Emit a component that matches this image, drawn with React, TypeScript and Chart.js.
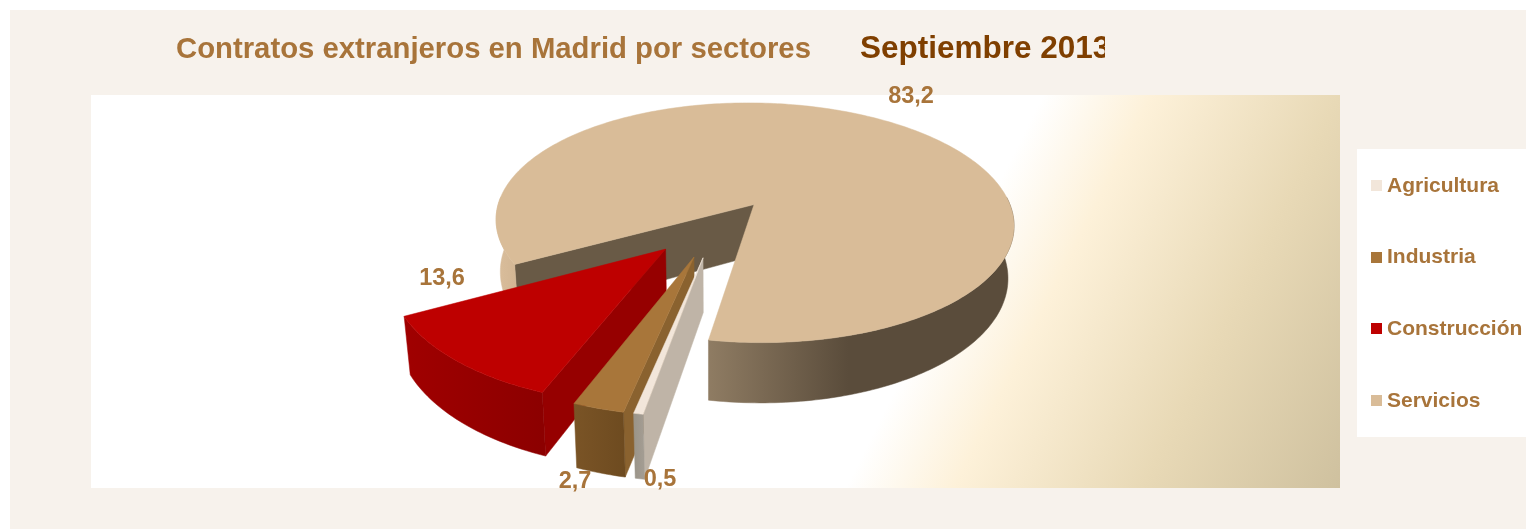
import React, { useEffect, useRef } from "react";
import { Chart, registerables } from "chart.js";

Chart.register(...registerables);

const categories = ["Agricultura", "Industria", "Construcción", "Servicios"];
const values = [0.5, 2.7, 13.6, 83.2];
const valueLabels = ["0,5", "2,7", "13,6", "83,2"];
const titleMain = "Contratos extranjeros en Madrid por sectores";
const titleDate = "Septiembre 2013";

const topColors = ["#F2E6DA", "#A8763A", "#BE0000", "#D9BC98"];
const radialColors = ["#BFB4A7", "#8A622F", "#960000", "#695A46"];
const outerStops: [number, string][][] = [
  [[0, "#9A9488"], [1, "#A39C92"]],
  [[0, "#7A5426"], [1, "#6E4B20"]],
  [[0, "#A00000"], [1, "#8C0000"]],
  [[0, "#DABE9C"], [0.04, "#D2B694"], [0.41, "#8F7C63"], [0.68, "#5A4C3B"], [1, "#5A4C3B"]],
];
const explode = [60, 60, 60, 70];
const nudgeX = [5, 2, 0, 0];
const FONT = '"Liberation Sans", Arial, sans-serif';
const TEXT = "#A8743A";
const labelPos: [number, number][] = [[660, 480], [575, 482], [442, 279], [911, 97]];

const TILT = 124.6 / 264;
const PERSP = 0.156;
const DEPTH = 52.8;
const ROTATION = 190.2;
// Excel's 3-D pie is not a true ellipse section: slice edges are remapped along the rim.
const warpTable: [number, number][] = [[0, 0], [11.52, 11.1], [60.48, 51.5], [360, 360]];

function warp(deg: number) {
  const f = ((deg - ROTATION) % 360 + 360) % 360;
  for (let k = 1; k < warpTable.length; k++) {
    const [x0, y0] = warpTable[k - 1];
    const [x1, y1] = warpTable[k];
    if (f <= x1) return ROTATION + y0 + ((f - x0) * (y1 - y0)) / (x1 - x0);
  }
  return ROTATION + f;
}

const piePlugin = {
  id: "pie3d",
  beforeDraw(chart: any) {
    const ctx = chart.ctx;
    ctx.save();
    ctx.fillStyle = "#FFFFFF";
    ctx.fillRect(0, 0, 1526, 529);
    ctx.fillStyle = "#F7F2EC";
    ctx.fillRect(10, 10, 1516, 519);
    const g = ctx.createLinearGradient(945, 290, 1339, 488);
    g.addColorStop(0, "#FFFFFF");
    g.addColorStop(0.22, "#FDF1D9");
    g.addColorStop(0.6, "#E8D9B6");
    g.addColorStop(1, "#CFC19F");
    ctx.fillStyle = g;
    ctx.fillRect(91, 95, 1249, 393);
    ctx.fillStyle = "#FFFFFF";
    ctx.fillRect(1357, 149, 169, 288);

    ctx.textBaseline = "middle";
    ctx.textAlign = "left";
    ctx.font = `bold 29.3px ${FONT}`;
    ctx.fillStyle = TEXT;
    ctx.fillText(titleMain, 176, 50);
    ctx.save();
    ctx.beginPath();
    ctx.rect(850, 20, 255, 60);
    ctx.clip();
    ctx.font = `bold 31.5px ${FONT}`;
    ctx.fillStyle = "#7F3F00";
    ctx.fillText(titleDate, 860, 49);
    ctx.restore();

    const colors = chart.data.datasets[0].backgroundColor;
    chart.data.labels.forEach((label: string, i: number) => {
      const y = 186 + i * 71.7;
      ctx.fillStyle = colors[i];
      ctx.fillRect(1371, Math.round(y - 6), 11, 11);
      ctx.font = `bold 21px ${FONT}`;
      ctx.fillStyle = TEXT;
      ctx.fillText(label, 1387, y);
    });
    ctx.restore();
  },
  beforeDatasetsDraw(chart: any) {
    const ctx = chart.ctx;
    const arcs = chart.getDatasetMeta(0).data;
    const colors = chart.data.datasets[0].backgroundColor;
    const order = [3, 2, 1, 0];
    order.forEach((i) => {
      const el = arcs[i];
      const R = el.outerRadius;
      const e = el.options.offset / R;
      const start = (el.startAngle * 180) / Math.PI + 90;
      const end = (el.endAngle * 180) / Math.PI + 90;
      const mid = ((start + end) / 2) * (Math.PI / 180);
      const ou = Math.sin(mid) * e;
      const ov = -Math.cos(mid) * e;
      const pr = (r: number, deg: number, low: boolean): [number, number] => {
        const a = (deg * Math.PI) / 180;
        const u = ou + r * Math.sin(a);
        const v = ov - r * Math.cos(a);
        const s = 1 / (1 - PERSP * v);
        const sx = R * u * s * (low ? 0.98 : 1);
        const sy = R * TILT * v * s + (low ? DEPTH * s : 0);
        return [el.x + sx + nudgeX[i], el.y + sy];
      };
      const a0 = warp(start);
      let a1 = warp(end - 1e-6);
      if (a1 < a0) a1 += 360;
      const n = Math.max(2, Math.ceil(a1 - a0));
      const rim: number[] = [];
      for (let k = 0; k <= n; k++) rim.push(a0 + ((a1 - a0) * k) / n);
      const poly = (pts: [number, number][], fill: any) => {
        ctx.beginPath();
        pts.forEach((p, k) => (k ? ctx.lineTo(p[0], p[1]) : ctx.moveTo(p[0], p[1])));
        ctx.closePath();
        ctx.fillStyle = fill;
        ctx.fill();
        ctx.strokeStyle = fill;
        ctx.lineWidth = 0.5;
        ctx.stroke();
      };
      poly([pr(0, 0, false), pr(1, a0, false), pr(1, a0, true), pr(0, 0, true)], radialColors[i]);
      const tops = rim.map((d) => pr(1, d, false));
      const xs = tops.map((p) => p[0]);
      const g = ctx.createLinearGradient(Math.min(...xs), 0, Math.max(...xs), 0);
      outerStops[i].forEach(([t, c]) => g.addColorStop(t, c));
      // only the near part of the rim shows a wall; the far part would fringe the top face
      let run: number[] = [];
      const flush = () => {
        if (run.length > 1) {
          poly([...run.map((d) => pr(1, d, false)), ...run.map((d) => pr(1, d, true)).reverse()], g);
        }
        run = [];
      };
      rim.forEach((d) => {
        if (Math.cos((d * Math.PI) / 180) < 0.08) run.push(d);
        else flush();
      });
      flush();
      poly([pr(0, 0, false), ...tops], colors[i]);
    });
    ctx.save();
    ctx.font = `bold 23.5px ${FONT}`;
    ctx.fillStyle = TEXT;
    ctx.textAlign = "center";
    ctx.textBaseline = "middle";
    valueLabels.forEach((t, i) => ctx.fillText(t, labelPos[i][0], labelPos[i][1]));
    ctx.restore();
    return false;
  },
};

export default function App() {
  const ref = useRef<HTMLCanvasElement>(null);
  useEffect(() => {
    const chart = new Chart(ref.current as HTMLCanvasElement, {
      type: "pie",
      data: {
        labels: categories,
        datasets: [{ data: values, backgroundColor: topColors, borderWidth: 0, offset: explode } as any],
      },
      options: {
        responsive: false,
        animation: false,
        events: [],
        rotation: ROTATION,
        radius: 264,
        layout: { padding: { left: 0, right: 106, top: 0, bottom: 71 } },
        plugins: { legend: { display: false }, title: { display: false }, tooltip: { enabled: false } },
      } as any,
      plugins: [piePlugin as any],
    });
    return () => chart.destroy();
  }, []);
  return (
    <div style={{ position: "fixed", left: 0, top: 0, width: 1526, height: 529 }}>
      <canvas ref={ref} width={1526} height={529} style={{ display: "block" }} />
    </div>
  );
}
